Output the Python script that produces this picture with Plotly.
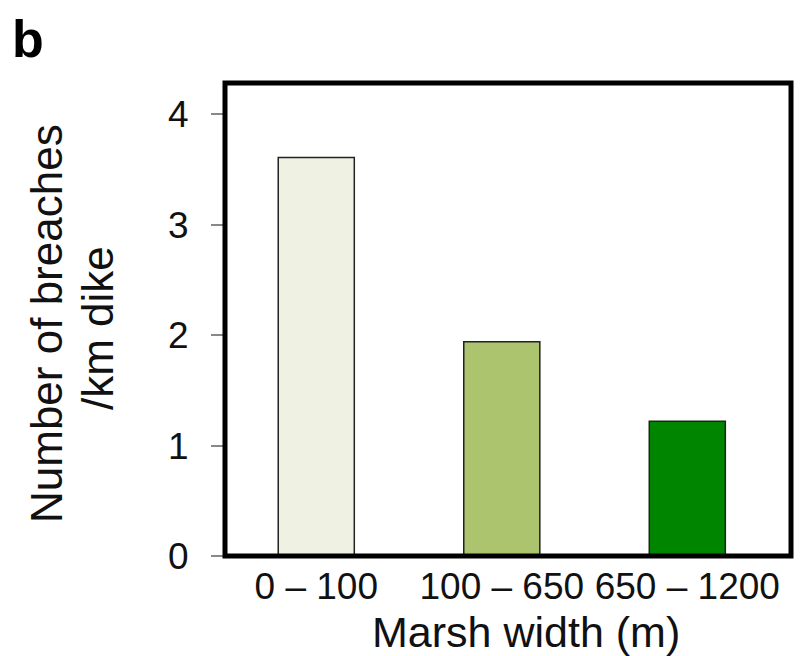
import plotly.graph_objects as go

categories = ["0 \u2013 100", "100 \u2013 650", "650 \u2013 1200"]
breaches_per_km = [3.61, 1.94, 1.22]
bar_colors = ["#EFF2E3", "#ADC46E", "#008500"]
y_ticks = [0, 1, 2, 3, 4]

FONT = "Arial, Liberation Sans, sans-serif"

fig = go.Figure()
fig.add_trace(go.Bar(
    x=categories, y=breaches_per_km,
    marker=dict(color=bar_colors, line=dict(color="#222222", width=1.5)),
    width=0.41,
))

# page has an 8px body margin; figure sized to fit visible window
OFF = 8
W, H = 794, 648
L, R, T, B = 225 - OFF, 11, 83 - OFF, 100
pw, ph = W - L - R, H - T - B

def px(x):
    return (x - OFF - L) / pw

def py(y):
    return (H - B - (y - OFF)) / ph

fig.update_layout(
    width=W, height=H,
    margin=dict(l=L, r=R, t=T, b=B, pad=0),
    plot_bgcolor="white", paper_bgcolor="white",
    showlegend=False,
    font=dict(family=FONT, color="#111111"),
    xaxis=dict(
        type="category", range=[-0.492, 2.559],
        showgrid=False, zeroline=False, showline=False,
        ticks="", tickfont=dict(size=37, family=FONT, color="#111111"),
        ticklabelstandoff=5,
    ),
    yaxis=dict(
        range=[0, 4.284], tickvals=y_ticks,
        showgrid=False, zeroline=False, showline=False,
        ticks="outside", ticklen=13, tickwidth=1.5, tickcolor="#888888",
        tickfont=dict(size=37, family=FONT, color="#111111"),
        ticklabelstandoff=15,
    ),
    shapes=[dict(type="rect", xref="paper", yref="paper", x0=0, x1=1, y0=0, y1=1,
                 line=dict(color="black", width=5), layer="above")],
    annotations=[
        dict(text="Number of breaches", xref="paper", yref="paper",
             x=px(46), y=py(323), textangle=-90,
             xanchor="center", yanchor="middle", showarrow=False,
             font=dict(size=44, family=FONT, color="#111111")),
        dict(text="/km dike", xref="paper", yref="paper",
             x=px(97), y=py(328), textangle=-90,
             xanchor="center", yanchor="middle", showarrow=False,
             font=dict(size=44, family=FONT, color="#111111")),
        dict(text="Marsh width (m)", xref="paper", yref="paper",
             x=px(526), y=py(632),
             xanchor="center", yanchor="middle", showarrow=False,
             font=dict(size=43, family=FONT, color="#111111")),
        dict(text="<b>b</b>", xref="paper", yref="paper",
             x=px(28), y=py(9), borderpad=0,
             xanchor="center", yanchor="top", showarrow=False,
             font=dict(size=52, family=FONT, color="black")),
    ],
)

fig.write_html("out.html")
